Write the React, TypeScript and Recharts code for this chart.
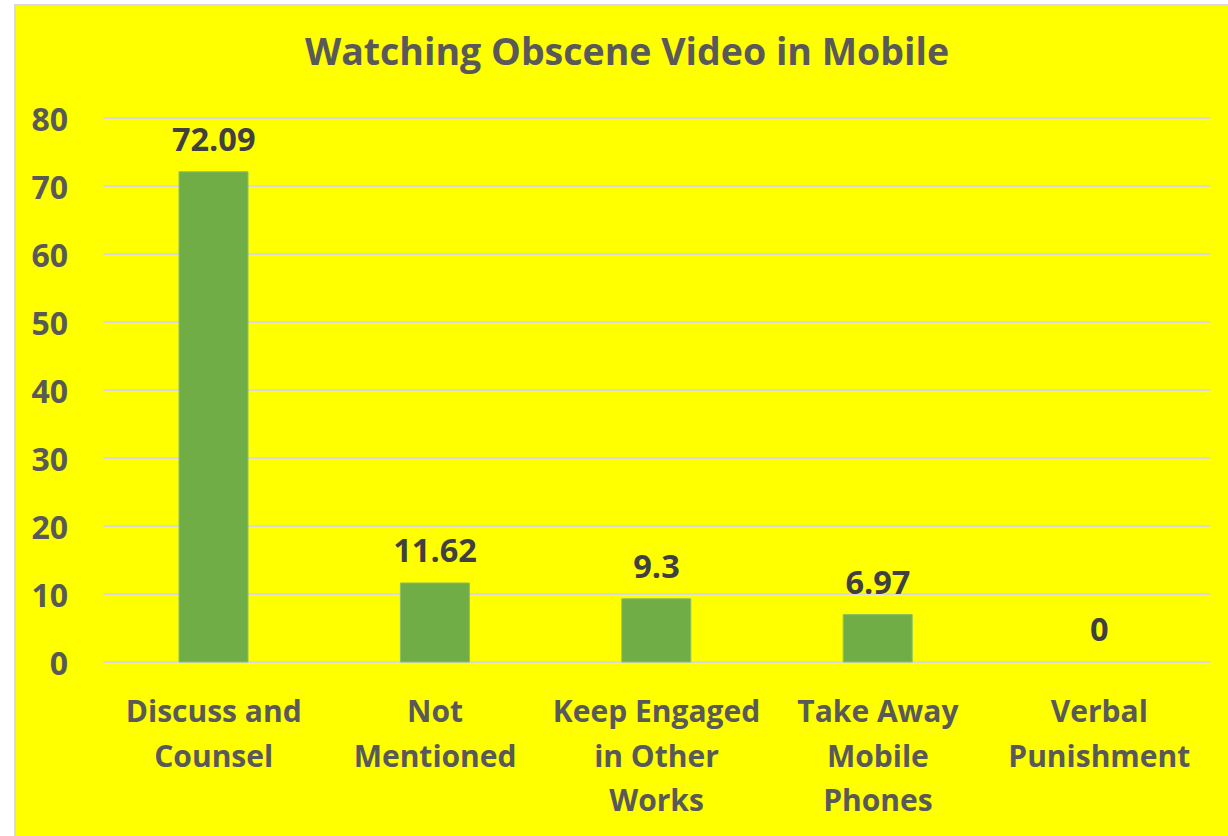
import React from "react";
import { ComposedChart, Bar, Line, XAxis, YAxis, CartesianGrid, LabelList } from "recharts";

const categories = [
  "Discuss and\nCounsel",
  "Not\nMentioned",
  "Keep Engaged\nin Other\nWorks",
  "Take Away\nMobile\nPhones",
  "Verbal\nPunishment",
];
const values = [72.09, 11.62, 9.3, 6.97, 0];
const yTicks = [0, 10, 20, 30, 40, 50, 60, 70, 80];
const title = "Watching Obscene Video in Mobile";

const data = categories.map((c, i) => ({ name: c, value: values[i] }));

const FONT = "'Open Sans', Lato, sans-serif";

const CatTick = (props: any) => {
  const { x, y, payload } = props;
  const lines = String(payload.value).split("\n");
  return (
    <g>
      {lines.map((ln: string, i: number) => (
        <text
          key={i}
          x={x}
          y={y + 60 + i * 44.5}
          textAnchor="middle"
          fill="#595959"
          fontFamily={FONT}
          fontWeight={700}
          fontSize={30}
        >
          {ln}
        </text>
      ))}
    </g>
  );
};

const ValueLabel = (props: any) => {
  const { x, y, value } = props;
  return (
    <text
      x={Number(x)}
      y={Number(y) - 21}
      textAnchor="middle"
      fill="#404040"
      fontFamily={FONT}
      fontWeight={700}
      fontSize={32.5}
    >
      {value}
    </text>
  );
};

export default function App() {
  return (
    <div style={{ position: "absolute", left: 0, top: 0, width: 1228, height: 836, background: "#fff", overflow: "hidden" }}>
      <div
        style={{
          position: "absolute",
          left: 14,
          top: 4,
          right: 0,
          bottom: 0,
          background: "#ffff00",
          borderLeft: "2px solid #d9d9d9",
          borderTop: "2px solid #d9d9d9",
          boxSizing: "border-box",
        }}
      />
      <div
        style={{
          position: "absolute",
          left: 0,
          width: 1254,
          top: 26,
          textAlign: "center",
          fontFamily: FONT,
          fontWeight: 700,
          fontSize: 37.5,
          color: "#595959",
          lineHeight: "50px",
        }}
      >
        {title}
      </div>
      <div style={{ position: "absolute", left: 0, top: 0 }}>
        <ComposedChart width={1228} height={836} data={data} margin={{ top: 118, right: 18, bottom: 0, left: 0 }}>
          <CartesianGrid vertical={false} stroke="#d9d9d9" strokeWidth={2} />
          <XAxis
            dataKey="name"
            axisLine={false}
            tickLine={false}
            tickSize={0}
            tickMargin={0}
            height={174}
            interval={0}
            tick={<CatTick />}
          />
          <YAxis
            domain={[0, 80]}
            ticks={yTicks}
            axisLine={false}
            tickLine={false}
            tickSize={0}
            tickMargin={35}
            width={103}
            tick={{ fill: "#595959", fontFamily: FONT, fontWeight: 700, fontSize: 32, dy: 2 }}
          />
          <Bar dataKey="value" fill="#70ad47" stroke="#8cc063" strokeWidth={1} barSize={69} isAnimationActive={false} />
          <Line
            dataKey="value"
            stroke="none"
            dot={false}
            activeDot={false}
            legendType="none"
            isAnimationActive={false}
          >
            <LabelList dataKey="value" content={<ValueLabel />} />
          </Line>
        </ComposedChart>
      </div>
    </div>
  );
}
